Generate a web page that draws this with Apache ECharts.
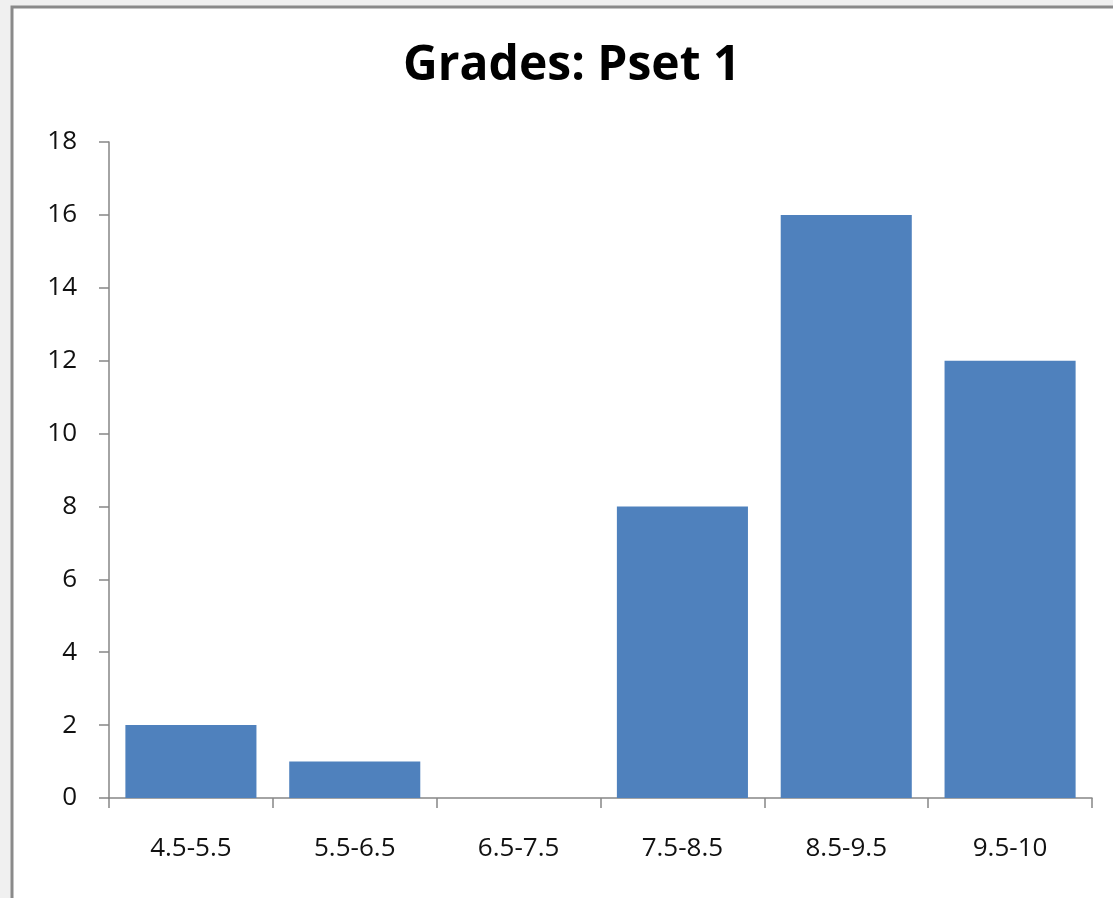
<!DOCTYPE html>
<html><head><meta charset="utf-8">
<script src="https://cdn.jsdelivr.net/npm/echarts@6/dist/echarts.min.js"></script>
<style>html,body{margin:0;padding:0;background:#f0f0f0}#c{width:1113px;height:898px}</style>
</head><body><div id="c"></div>
<script>
const categories = ['4.5-5.5','5.5-6.5','6.5-7.5','7.5-8.5','8.5-9.5','9.5-10'];
const counts = [2, 1, 0, 8, 16, 12];
const yTicks = {min: 0, max: 18, interval: 2};
const chart = echarts.init(document.getElementById('c'));
chart.setOption({
  backgroundColor: '#f0f0f0',
  animation: false,
  graphic: [{type:'rect', z:-10, shape:{x:12, y:7, width:1120, height:910}, style:{fill:'#ffffff', stroke:'#8a8a8a', lineWidth:3}}],
  title: {text:'Grades: Pset 1', left:403, top:42, padding:0, textStyle:{fontFamily:'Open Sans', fontWeight:'bold', fontSize:48, color:'#000'}},
  grid: {left:109, right:21, top:142, bottom:100, containLabel:false},
  xAxis: {type:'category', data:categories,
    axisLine:{lineStyle:{color:'#868686', width:1.5}},
    axisTick:{show:true, length:10, lineStyle:{color:'#868686', width:1.5}},
    axisLabel:{color:'#111', fontFamily:'Open Sans', fontSize:26, margin:38}},
  yAxis: {type:'value', min:yTicks.min, max:yTicks.max, interval:yTicks.interval,
    splitLine:{show:false},
    axisLine:{show:true, lineStyle:{color:'#868686', width:1.5}},
    axisTick:{show:true, length:10, lineStyle:{color:'#868686', width:1.5}},
    axisLabel:{color:'#111', fontFamily:'Open Sans', fontSize:26, margin:32}},
  series: [{type:'bar', data:counts, barCategoryGap:'20%', itemStyle:{color:'#4F81BD'}}]
});
</script></body></html>
